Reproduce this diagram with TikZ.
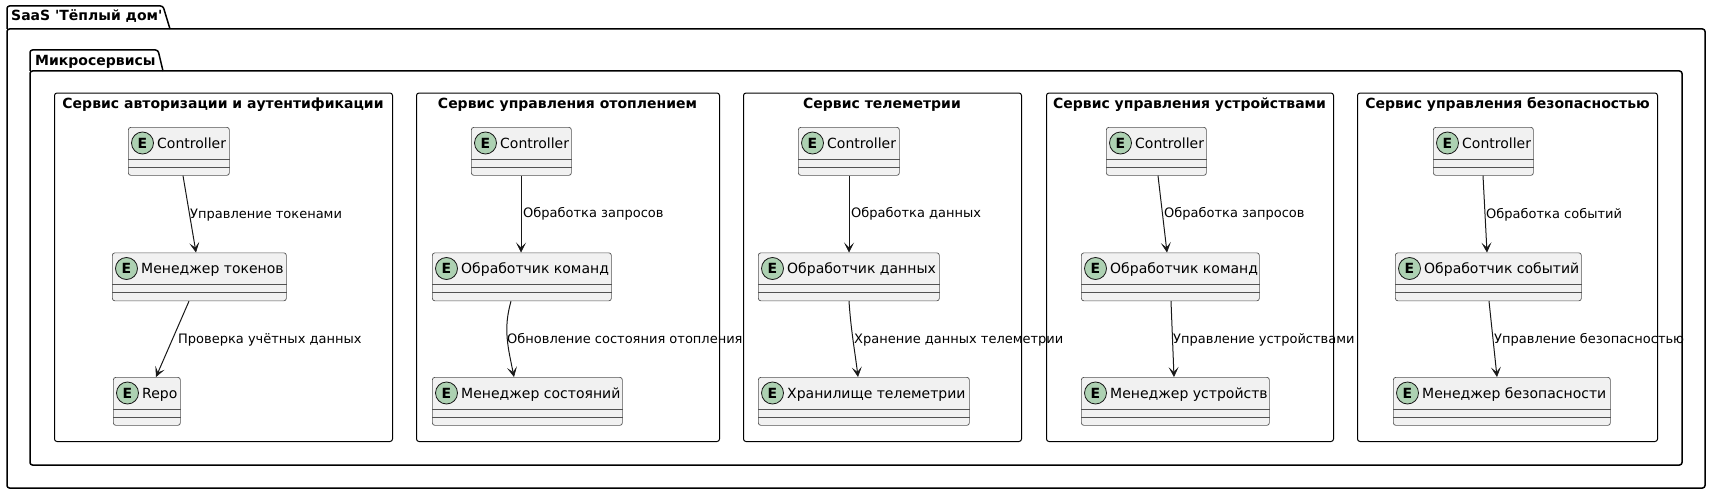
\documentclass[tikz,border=0pt]{standalone}
\usepackage{fontspec}
\newfontfamily\dv{DejaVu Sans}
\usetikzlibrary{arrows.meta,calc}
\definecolor{entfill}{HTML}{F1F1F1}
\definecolor{entdraw}{HTML}{181818}
\definecolor{circfill}{HTML}{ADD1B2}
\tikzset{
 pkgline/.style={draw=black, line width=1.5pt, rounded corners=2.5pt},
 svcbox/.style={draw=black, line width=1pt, rounded corners=2.5pt, anchor=north west, inner sep=0pt},
 entbox/.style={draw=entdraw!75, line width=0.7pt, fill=entfill, rounded corners=2.5pt, anchor=north west, inner sep=0pt, minimum height=48pt},
 sepline/.style={draw=entdraw!75, line width=0.7pt},
 ecirc/.style={circle, draw=entdraw, line width=0.8pt, fill=circfill, minimum size=22pt, inner sep=0pt, font=\dv\bfseries\fontsize{14}{14}\selectfont},
 entname/.style={anchor=base west, inner sep=0pt, font=\dv\fontsize{14}{16}\selectfont},
 lbl/.style={anchor=base west, inner sep=0pt, font=\dv\fontsize{13}{15}\selectfont, text=black},
 svctitle/.style={anchor=base, inner sep=0pt, font=\dv\bfseries\fontsize{14}{16}\selectfont},
 pkgtitle/.style={anchor=base west, inner sep=0pt, font=\dv\bfseries\fontsize{14}{16}\selectfont},
 conn/.style={draw=entdraw, line width=1pt, -{Stealth[length=10pt,width=10pt,inset=5pt,line width=0.6pt]}},
}
\newcommand\ent[5]{%
 \node[entbox, minimum width=#4pt] (#1) at (#2,#3) {};
 \draw[sepline] ([yshift=-32pt]#1.north west) -- ([yshift=-32pt]#1.north east);
 \draw[sepline] ([yshift=-40pt]#1.north west) -- ([yshift=-40pt]#1.north east);
 \node[ecirc] (#1c) at ([xshift=14.5pt,yshift=-16pt]#1.north west) {E};
 \node[entname] (#1t) at ([xshift=29pt,yshift=-21pt]#1.north west) {#5};
}
\begin{document}
\begin{tikzpicture}[x=1pt,y=-1pt]
\useasboundingbox (0,0) rectangle (1711,495);
% outer package
\draw[pkgline] (7,29) rectangle (1705,488);
\draw[pkgline] (7,29) -- (7,6) -- (163,6) -- (170,29);
\node[pkgtitle] (pkgA) at (11,21) {SaaS \textquotesingle Тёплый дом\textquotesingle};
% inner package
\draw[pkgline] (30,71) rectangle (1682,465);
\draw[pkgline] (30,71) -- (30,50) -- (158,50) -- (163,71);
\node[pkgtitle] (pkgB) at (35,66) {Микросервисы};
% service boxes
\node[svcbox, minimum width=338pt, minimum height=348.5pt] (S1) at (54,92.5) {};
\node[svcbox, minimum width=303pt, minimum height=348.5pt] (S2) at (416,92.5) {};
\node[svcbox, minimum width=278pt, minimum height=348.5pt] (S3) at (743,92.5) {};
\node[svcbox, minimum width=287pt, minimum height=348.5pt] (S4) at (1046,92.5) {};
\node[svcbox, minimum width=300pt, minimum height=348.5pt] (S5) at (1357,92.5) {};
\node[svctitle] (T1) at (223,108) {Сервис авторизации и аутентификации};
\node[svctitle] (T2) at (567.5,108) {Сервис управления отоплением};
\node[svctitle] (T3) at (882,108) {Сервис телеметрии};
\node[svctitle] (T4) at (1189.5,108) {Сервис управления устройствами};
\node[svctitle] (T5) at (1507.5,108) {Сервис управления безопасностью};
% box 1
\ent{c1}{128}{127}{101}{Controller}
\ent{m1}{112}{252.5}{174}{Менеджер токенов}
\ent{r1}{113}{377}{67}{Repo}
\draw[conn] ([xshift=55pt]c1.south west) -- ([xshift=84pt]m1.north west);
\draw[conn] ([xshift=77pt]m1.south west) -- ([xshift=43pt]r1.north west);
\node[lbl] (l1a) at (190,218.7) {Управление токенами};
\node[lbl] (l1b) at (178,343.7) {Проверка учётных данных};
% box 2
\ent{c2}{471}{127}{100}{Controller}
\ent{h2}{432}{252.5}{179}{Обработчик команд}
\ent{s2}{432}{377}{190}{Менеджер состояний}
\draw[conn] ([xshift=50pt]c2.south west) -- ([xshift=89pt]h2.north west);
\draw[conn] ([xshift=79pt]h2.south west) .. controls +(-8,28) and +(-6,-30) .. ([xshift=82pt]s2.north west);
\node[lbl] (l2a) at (523,217.7) {Обработка запросов};
\node[lbl] (l2b) at (507,343.7) {Обновление состояния отопления};
% box 3
\ent{c3}{798}{127}{101}{Controller}
\ent{d3}{758}{252.5}{181}{Обработчик данных}
\ent{t3}{758}{377}{211}{Хранилище телеметрии}
\draw[conn] ([xshift=51pt]c3.south west) -- ([xshift=91pt]d3.north west);
\draw[conn] ([xshift=91pt]d3.south west) .. controls +(2,30) and +(-3,-25) .. ([xshift=100pt]t3.north west);
\node[lbl] (l3a) at (851,217.7) {Обработка данных};
\node[lbl] (l3b) at (854,343.7) {Хранение данных телеметрии};
% box 4
\ent{c4}{1106}{127}{100}{Controller}
\ent{h4}{1081}{252.5}{178}{Обработчик команд}
\ent{u4}{1081}{377}{188}{Менеджер устройств}
\draw[conn] ([xshift=52pt]c4.south west) -- ([xshift=86pt]h4.north west);
\draw[conn] ([xshift=90pt]h4.south west) -- ([xshift=93pt]u4.north west);
\node[lbl] (l4a) at (1164,217.7) {Обработка запросов};
\node[lbl] (l4b) at (1173,343.7) {Управление устройствами};
% box 5
\ent{c5}{1433}{127}{100}{Controller}
\ent{e5}{1395}{252.5}{186}{Обработчик событий}
\ent{b5}{1393}{377}{217}{Менеджер безопасности}
\draw[conn] ([xshift=50pt]c5.south west) -- ([xshift=92pt]e5.north west);
\draw[conn] ([xshift=94pt]e5.south west) -- ([xshift=104pt]b5.north west);
\node[lbl] (l5a) at (1486,218.7) {Обработка событий};
\node[lbl] (l5b) at (1494,343.7) {Управление безопасностью};
\end{tikzpicture}
\end{document}
